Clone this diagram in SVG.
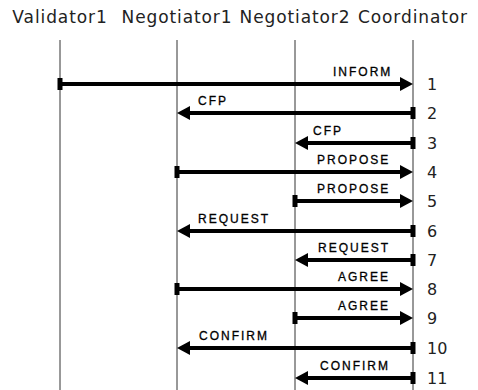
<svg xmlns="http://www.w3.org/2000/svg" width="478" height="390" viewBox="0 0 478 390">
<defs>
<style>
.hdr{font-family:"DejaVu Sans",sans-serif;font-size:17px;letter-spacing:0.9px;fill:#222;text-anchor:middle}
.life{stroke:#333;stroke-width:1}
.msg{stroke:#000;stroke-width:4;fill:none}
.lbl{font-family:"Liberation Sans",Arial,sans-serif;font-size:12px;letter-spacing:2px;fill:#000;stroke:#000;stroke-width:0.3px}
.num{font-family:"DejaVu Sans",sans-serif;font-size:16px;fill:#222}
</style>
<marker id="head" markerUnits="userSpaceOnUse" markerWidth="14" markerHeight="14" refX="3" refY="7" orient="auto" overflow="visible">
<path d="M0,0 L13,7 L0,14 z" fill="#000"/>
</marker>
<marker id="tail" markerUnits="userSpaceOnUse" markerWidth="6" markerHeight="12" refX="2.5" refY="6" orient="auto" overflow="visible">
<path d="M0,0 h5 v12 h-5 z" fill="#000"/>
</marker>
</defs>
<rect width="478" height="390" fill="#fff"/>
<g id="Validator1">
<text class="hdr" x="60" y="23">Validator1</text>
<line class="life" x1="60" y1="40" x2="60" y2="390"/>
</g>
<g id="Negotiator1">
<text class="hdr" x="177" y="23">Negotiator1</text>
<line class="life" x1="177" y1="40" x2="177" y2="390"/>
</g>
<g id="Negotiator2">
<text class="hdr" x="295" y="23">Negotiator2</text>
<line class="life" x1="295" y1="40" x2="295" y2="390"/>
</g>
<g id="Coordinator">
<text class="hdr" x="413" y="23">Coordinator</text>
<line class="life" x1="413" y1="40" x2="413" y2="390" stroke-width="2"/>
</g>
<g id="connectors">
<line class="msg" x1="60" y1="84" x2="403" y2="84" marker-start="url(#tail)" marker-end="url(#head)"/>
<line class="msg" x1="413" y1="113" x2="187" y2="113" marker-start="url(#tail)" marker-end="url(#head)"/>
<line class="msg" x1="413" y1="143" x2="305" y2="143" marker-start="url(#tail)" marker-end="url(#head)"/>
<line class="msg" x1="177" y1="172" x2="403" y2="172" marker-start="url(#tail)" marker-end="url(#head)"/>
<line class="msg" x1="295" y1="201" x2="403" y2="201" marker-start="url(#tail)" marker-end="url(#head)"/>
<line class="msg" x1="413" y1="231" x2="187" y2="231" marker-start="url(#tail)" marker-end="url(#head)"/>
<line class="msg" x1="413" y1="260" x2="305" y2="260" marker-start="url(#tail)" marker-end="url(#head)"/>
<line class="msg" x1="177" y1="289" x2="403" y2="289" marker-start="url(#tail)" marker-end="url(#head)"/>
<line class="msg" x1="295" y1="318" x2="403" y2="318" marker-start="url(#tail)" marker-end="url(#head)"/>
<line class="msg" x1="413" y1="348" x2="187" y2="348" marker-start="url(#tail)" marker-end="url(#head)"/>
<line class="msg" x1="413" y1="378" x2="305" y2="378" marker-start="url(#tail)" marker-end="url(#head)"/>
<text class="lbl" x="333" y="76">INFORM</text>
<text class="lbl" x="198" y="105">CFP</text>
<text class="lbl" x="313" y="135">CFP</text>
<text class="lbl" x="317" y="164">PROPOSE</text>
<text class="lbl" x="317" y="193">PROPOSE</text>
<text class="lbl" x="198" y="223">REQUEST</text>
<text class="lbl" x="318" y="252">REQUEST</text>
<text class="lbl" x="338" y="281">AGREE</text>
<text class="lbl" x="338" y="310">AGREE</text>
<text class="lbl" x="199" y="340">CONFIRM</text>
<text class="lbl" x="320" y="370">CONFIRM</text>
<text class="num" x="427" y="90">1</text>
<text class="num" x="427" y="119">2</text>
<text class="num" x="427" y="149">3</text>
<text class="num" x="427" y="178">4</text>
<text class="num" x="427" y="207">5</text>
<text class="num" x="427" y="237">6</text>
<text class="num" x="427" y="266">7</text>
<text class="num" x="427" y="295">8</text>
<text class="num" x="427" y="324">9</text>
<text class="num" x="427" y="354">10</text>
<text class="num" x="427" y="384">11</text>
</g>
</svg>
